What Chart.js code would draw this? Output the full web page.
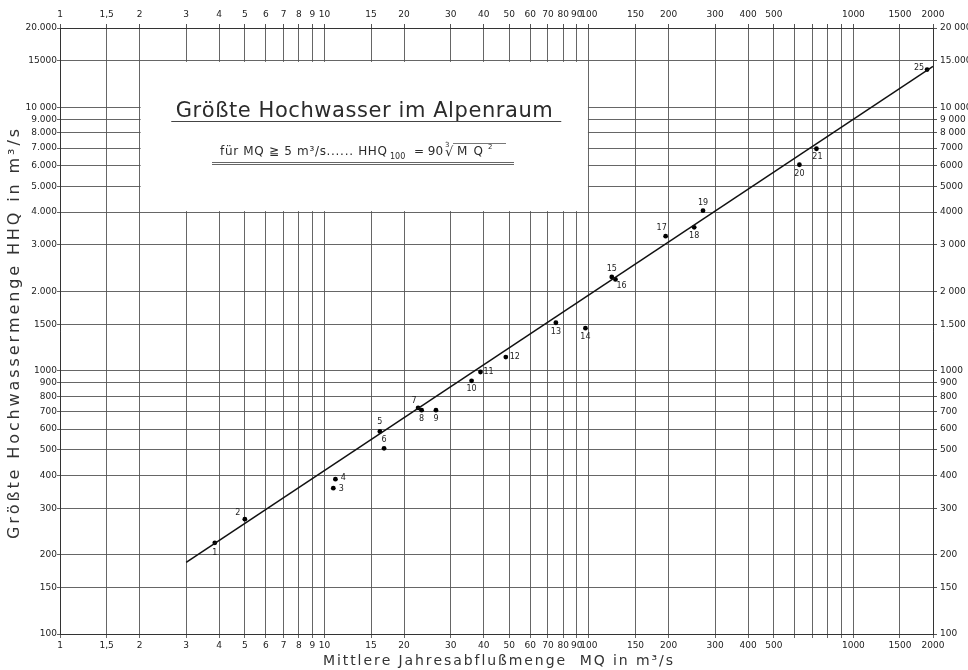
<!DOCTYPE html>
<html><head><meta charset="utf-8">
<script src="https://cdn.jsdelivr.net/npm/chart.js@4/dist/chart.umd.min.js"></script>
<style>html,body{margin:0;padding:0;background:#fff}canvas{display:block}</style>
</head><body>
<canvas id="c" width="968" height="670" style="width:968px;height:670px"></canvas>
<script>
// ---- data ----
const stationIds = ['1','2','3','4','5','6','7','8','9','10','11','12','13','14','15','16','17','18','19','20','21','25'];
const mqValues  = [3.85, 5.0, 10.8, 11.0, 16.2, 16.8, 22.6, 23.3, 26.4, 36, 38.9, 48.5, 75, 97, 122, 126, 195, 250, 270, 625, 725, 1900];
const hhqValues = [222, 273, 358, 387, 588, 507, 722, 708, 708, 915, 988, 1126, 1520, 1450, 2270, 2220, 3240, 3500, 4050, 6050, 6960, 13900];
const lineMQ  = [3, 2000];
const lineHHQ = [187, 14300];

const xTickValues = [1,1.5,2,3,4,5,6,7,8,9,10,15,20,30,40,50,60,70,80,90,100,150,200,300,400,500,600,700,800,900,1000,1500,2000];
const xTickLabels = ['1','1,5','2','3','4','5','6','7','8','9','10','15','20','30','40','50','60','70','80','90','100','150','200','300','400','500','','','','','1000','1500','2000'];
const yTickValues = [100,150,200,300,400,500,600,700,800,900,1000,1500,2000,3000,4000,5000,6000,7000,8000,9000,10000,15000,20000];
const yLeftLabels  = ['100','150','200','300','400','500','600','700','800','900','1000','1500','2.000','3.000','4.000','5.000','6.000','7.000','8.000','9.000','10 000','15000','20.000'];
const yRightLabels = ['100','150','200','300','400','500','600','700','800','900','1000','1.500','2 000','3 000','4000','5000','6000','7000','8 000','9 000','10 000','15.000','20 000'];

const titleText = 'Größte Hochwasser im Alpenraum';
const xTitle = 'Mittlere Jahresabflußmenge  MQ in m³/s';
const yTitle = 'Größte Hochwassermenge HHQ in m³/s';
const boxX = [2, 100];
const boxY = [4000, 15000];

// ---- helpers ----
const FONT = '"DejaVu Sans", "Liberation Sans", sans-serif';
function spacedText(ctx, text, cx, cy, width) {
  const chars = [...text];
  const ws = chars.map(c => ctx.measureText(c).width);
  const sum = ws.reduce((a,b)=>a+b,0);
  const gap = chars.length > 1 ? (width - sum) / (chars.length - 1) : 0;
  let x = cx - width / 2;
  ctx.textAlign = 'left';
  chars.forEach((c,i) => { ctx.fillText(c, x, cy); x += ws[i] + gap; });
}

const decor = {
  id: 'decor',
  beforeDatasetsDraw(chart) {
    const ctx = chart.ctx, xs = chart.scales.x, ys = chart.scales.y;
    const l = xs.getPixelForValue(boxX[0]), r = xs.getPixelForValue(boxX[1]);
    const t = ys.getPixelForValue(boxY[1]), b = ys.getPixelForValue(boxY[0]);
    ctx.save();
    ctx.fillStyle = '#fff';
    ctx.fillRect(l + 1, t + 1, r - l - 2, b - t - 2);
    const cx = (l + r) / 2;
    ctx.fillStyle = '#2b2b2b';
    ctx.textBaseline = 'middle';
    ctx.font = '21px ' + FONT;
    spacedText(ctx, titleText, cx, t + 51, 377);
    ctx.strokeStyle = '#444'; ctx.lineWidth = 1;
    ctx.beginPath(); ctx.moveTo(cx - 193, Math.round(t + 60) + 0.5); ctx.lineTo(cx + 197, Math.round(t + 60) + 0.5); ctx.stroke();
    // subtitle
    const y = Math.round(t + 91);
    ctx.font = '12px ' + FONT;
    spacedText(ctx, 'für MQ ≧ 5 m³/s...... HHQ', 303.5, y, 167);
    ctx.font = '8px ' + FONT; ctx.textAlign = 'left';
    ctx.fillText('100', 390, y + 5);
    ctx.font = '12px ' + FONT; ctx.textAlign = 'left';
    ctx.fillText('= 90', 414, y);
    ctx.font = '7px ' + FONT; ctx.fillText('3', 445, y - 7);
    ctx.font = '13px ' + FONT; ctx.fillText('√', 445, y + 1);
    ctx.font = '12px ' + FONT;
    spacedText(ctx, 'MQ', 470, y, 26);
    ctx.font = '7px ' + FONT; ctx.textAlign = 'left'; ctx.fillText('2', 488, y - 5);
    ctx.lineWidth = 0.8; ctx.strokeStyle = '#555';
    ctx.beginPath(); ctx.moveTo(453, y - 8.5); ctx.lineTo(506, y - 8.5); ctx.stroke();
    ctx.lineWidth = 1; ctx.strokeStyle = '#666';
    ctx.beginPath(); ctx.moveTo(212, y + 10.5); ctx.lineTo(514, y + 10.5);
    ctx.moveTo(212, y + 12.5); ctx.lineTo(514, y + 12.5); ctx.stroke();
    ctx.restore();
  },
  afterDatasetsDraw(chart) {
    const ctx = chart.ctx;
    const offs = [[0,10],[-7,-6],[8,1],[8,-1],[0,-9],[0,-8],[-4,-7],[0,9],[0,9],[0,8],[8,0],[9,0],[0,9],[0,9],[0,-8],[6,6],[-4,-8],[0,9],[0,-8],[0,9],[1,8],[-8,-2]];
    const meta = chart.getDatasetMeta(1);
    ctx.save();
    ctx.font = '8px ' + FONT; ctx.fillStyle = '#222';
    ctx.textAlign = 'center'; ctx.textBaseline = 'middle';
    meta.data.forEach((pt, i) => {
      const o = offs[i] || [0, -8];
      ctx.fillText(stationIds[i], pt.x + o[0], pt.y + o[1]);
    });
    // axis titles
    ctx.fillStyle = '#333';
    ctx.font = '14px ' + FONT; ctx.textBaseline = 'middle';
    spacedText(ctx, xTitle, 498, 661, 350);
    ctx.translate(15, 334); ctx.rotate(-Math.PI / 2);
    ctx.font = '16px ' + FONT;
    spacedText(ctx, yTitle, 0, 0, 410);
    ctx.restore();
  }
};

function setTicks(values) { return s => { s.ticks = values.map(v => ({ value: v })); }; }
const gridColor = '#555';
const tickFont = { family: FONT, size: 9 };

new Chart(document.getElementById('c'), {
  type: 'scatter',
  data: {
    datasets: [
      { label: 'HHQ100', data: lineMQ.map((v,i)=>({x:v, y:lineHHQ[i]})), showLine: true, borderColor: '#111', borderWidth: 1.5, pointRadius: 0 },
      { label: 'Stationen', data: mqValues.map((v,i)=>({x:v, y:hhqValues[i]})), pointRadius: 2.4, pointBackgroundColor: '#000', pointBorderColor: '#000', pointBorderWidth: 0 }
    ]
  },
  options: {
    responsive: false, animation: false,
    layout: { padding: 0 },
    plugins: { legend: { display: false }, tooltip: { enabled: false }, title: { display: false } },
    scales: {
      x: { type: 'logarithmic', position: 'bottom', min: 1, max: 2000,
        afterBuildTicks: setTicks(xTickValues),
        afterFit: s => { s.height = 36; },
        ticks: { autoSkip: false, maxRotation: 0, minRotation: 0, padding: 2, color: '#222', font: tickFont, callback: (v, i) => xTickLabels[i] },
        grid: { color: gridColor, lineWidth: 0.9, tickLength: 4 },
        border: { color: '#333', width: 1 } },
      x2: { type: 'logarithmic', position: 'top', min: 1, max: 2000,
        afterBuildTicks: setTicks(xTickValues),
        afterFit: s => { s.height = 28; },
        ticks: { autoSkip: false, maxRotation: 0, minRotation: 0, padding: 4, color: '#222', font: tickFont, callback: (v, i) => xTickLabels[i] },
        grid: { drawOnChartArea: false, color: gridColor, tickLength: 4 },
        border: { color: '#333', width: 1 } },
      y: { type: 'logarithmic', position: 'left', min: 100, max: 20000,
        afterBuildTicks: setTicks(yTickValues),
        afterFit: s => { s.width = 60; },
        ticks: { autoSkip: false, padding: 0, color: '#222', font: tickFont, callback: (v, i) => yLeftLabels[i] },
        grid: { color: gridColor, lineWidth: 0.9, tickLength: 3 },
        border: { color: '#333', width: 1 } },
      y2: { type: 'logarithmic', position: 'right', min: 100, max: 20000,
        afterBuildTicks: setTicks(yTickValues),
        afterFit: s => { s.width = 35; },
        ticks: { autoSkip: false, padding: 3, color: '#222', font: tickFont, callback: (v, i) => yRightLabels[i] },
        grid: { drawOnChartArea: false, color: gridColor, tickLength: 4 },
        border: { color: '#333', width: 1 } }
    }
  },
  plugins: [decor]
});
</script>
</body></html>
